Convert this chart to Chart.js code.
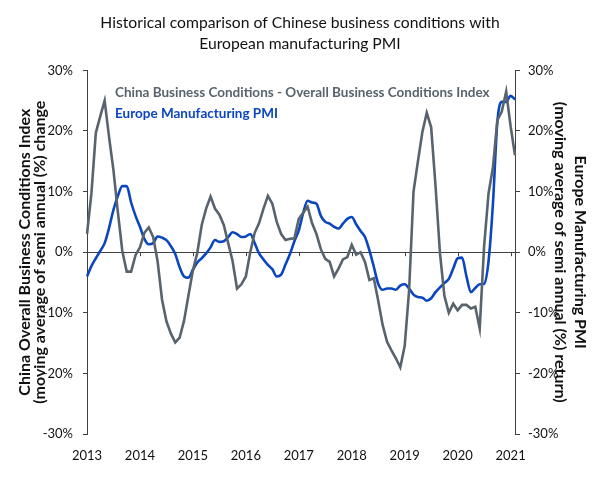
<!DOCTYPE html>
<html>
<head>
<meta charset="utf-8">
<script src="https://cdn.jsdelivr.net/npm/chart.js@4.4.1/dist/chart.umd.min.js"></script>
<style>
  html, body { margin: 0; padding: 0; background: #fff; }
  canvas { display: block; }
</style>
</head>
<body>
<canvas id="chart" width="600" height="500"></canvas>
<script>
// year tick labels, one per January
const years = ["2013", "2014", "2015", "2016", "2017", "2018", "2019", "2020", "2021"];

// monthly values, Jan 2013 .. Feb 2021 (%)
const chinaBusiness = [
  3, 9.7, 19.7, 22.4, 25, 19, 13.5, 6.6, 0.2, -3.2, -3.2, -0.5,
  0.8, 3.2, 4.1, 2.5, -1.5, -7.8, -11.4, -13.4, -14.9, -14.1, -11.3, -7.1,
  -3, -0.1, 4.5, 7.2, 9.2, 7.2, 6.2, 4.5, 1.5, -1.5, -6, -5.3,
  -4, 0, 3.2, 4.8, 7.2, 9.3, 8, 5, 3, 2, 2.2, 2.3,
  5.5, 6.5, 7.5, 4.8, 3, 0.5, -1.1, -1.6, -4, -2.7, -1.2, -0.8,
  1.2, -0.4, 0, -1.6, -4.6, -4.3, -8, -12, -14.8, -16.2, -17.5, -19,
  -15.5, -6.3, 10, 15, 19.8, 23, 20.6, 10.8, -0.2, -7.2, -10, -8.5,
  -9.6, -8.7, -8.7, -9.3, -9, -12.6, 1, 9.7, 14, 21.8, 23.2, 26.5,
  20.8, 16
];
const europePmi = [
  -4, -2.3, -1, 0.2, 1.5, 4, 7, 9.3, 10.9, 10.9, 8.2, 6,
  4.2, 2.2, 1.3, 1.5, 2.6, 2.4, 2, 1, -0.3, -2.5, -4, -4.2,
  -2.9, -1.7, -1, -0.2, 0.8, 2, 1.7, 1.8, 2.5, 3.3, 3, 2.5,
  2.6, 3, 1.5, -0.2, -1.2, -2.1, -2.8, -4, -3.7, -2, -0.3, 1.8,
  3.6, 6.5, 8.5, 8.2, 8, 6, 5, 4.7, 4.2, 3.9, 4.7, 5.5,
  5.8, 4.6, 3.5, 2.5, 0.3, -2.4, -5.2, -6.2, -6, -6, -6.2, -5.5,
  -5.3, -6, -7, -7.4, -7.5, -8, -7.6, -6.6, -5.8, -5.1, -4.4, -2.7,
  -1, -0.9, -4, -6.6, -5.9, -5.3, -5.2, -1.5, 8, 21.5, 24.8, 24.8,
  25.8, 25.2
];

const seriesNames = [
  "China Business Conditions - Overall Business Conditions Index",
  "Europe Manufacturing PMI"
];

const months = [];
years.forEach((y) => {
  for (let m = 1; m <= 12; m++) months.push(y + "-" + String(m).padStart(2, "0"));
});
months.length = chinaBusiness.length;

const GRAY = "#58636d";
const BLUE = "#0a46c0";
const AXIS = "#404040";
const FONT = "Lato";

// labels drawn inside the plot, no legend symbols
const seriesLabels = {
  id: "seriesLabels",
  afterDraw(chart) {
    const { ctx, chartArea } = chart;
    ctx.save();
    ctx.font = "bold 13.5px " + FONT;
    ctx.textBaseline = "middle";
    chart.data.datasets.forEach((ds, i) => {
      ctx.fillStyle = ds.borderColor;
      ctx.fillText(ds.label, chartArea.left + 28, chartArea.top + 22 + i * 21);
    });
    ctx.restore();
  },
};

// small year ticks hanging off the zero line
const zeroTicks = {
  id: "zeroTicks",
  beforeDatasetsDraw(chart) {
    const { ctx } = chart;
    const xs = chart.scales.x;
    const y0 = chart.scales.y.getPixelForValue(0);
    ctx.save();
    ctx.strokeStyle = AXIS;
    ctx.lineWidth = 1;
    for (let i = 12; i < months.length; i += 12) {
      const x = Math.round(xs.getPixelForValue(i)) + 0.5;
      ctx.beginPath();
      ctx.moveTo(x, y0);
      ctx.lineTo(x, y0 + 4);
      ctx.stroke();
    }
    ctx.restore();
  },
};

const mychart = document.querySelector("#chart");
new Chart(mychart, {
  type: "line",
  data: {
    labels: months,
    datasets: [
      {
        label: seriesNames[0],
        data: chinaBusiness,
        yAxisID: "y",
        borderColor: GRAY,
        borderWidth: 2.6,
        pointRadius: 0,
        tension: 0,
      },
      {
        label: seriesNames[1],
        data: europePmi,
        yAxisID: "y1",
        borderColor: BLUE,
        borderWidth: 2.6,
        pointRadius: 0,
        cubicInterpolationMode: "monotone",
      },
    ],
  },
  options: {
    responsive: false,
    animation: false,
    devicePixelRatio: 1,
    layout: { padding: 0 },
    plugins: {
      legend: { display: false },
      tooltip: { enabled: false },
      title: {
        display: true,
        text: [
          "Historical comparison of Chinese business conditions with",
          "European manufacturing PMI",
        ],
        color: "#111",
        font: { family: FONT, size: 15.7, weight: "normal", lineHeight: 1.35 },
        padding: { top: 12, bottom: 16 },
      },
    },
    scales: {
      x: {
        grid: { display: false, drawTicks: false },
        border: { display: false },
        ticks: {
          autoSkip: false,
          maxRotation: 0,
          padding: 14,
          color: "#111",
          font: { family: FONT, size: 13 },
          callback: (v, i) => (i % 12 === 0 ? years[i / 12] : ""),
        },
        afterFit: (scale) => { scale.height = 66; },
      },
      y: {
        position: "left",
        min: -30,
        max: 30,
        grid: {
          color: (c) => (c.tick && c.tick.value === 0 ? AXIS : "transparent"),
          tickColor: AXIS,
          tickLength: 4,
        },
        border: { color: AXIS },
        ticks: {
          stepSize: 10,
          padding: 10,
          color: "#111",
          font: { family: FONT, size: 13 },
          callback: (v) => v + "%",
        },
        title: {
          display: true,
          text: [
            "China Overall Business Conditions Index",
            "(moving average of semi annual (%) change",
          ],
          color: "#111",
          font: { family: FONT, size: 16, weight: "bold", lineHeight: 0.97 },
          padding: { top: 17 },
        },
        afterFit: (scale) => { scale.width = 87; },
      },
      y1: {
        position: "right",
        min: -30,
        max: 30,
        grid: { drawOnChartArea: false, tickColor: AXIS, tickLength: 5, color: AXIS },
        border: { color: AXIS },
        ticks: {
          stepSize: 10,
          padding: 8,
          color: "#111",
          font: { family: FONT, size: 13 },
          callback: (v) => v + "%",
        },
        title: {
          display: true,
          text: [
            "Europe Manufacturing PMI",
            "(moving average of semi annual (%) return)",
          ],
          color: "#111",
          font: { family: FONT, size: 16, weight: "bold", lineHeight: 1.25 },
          padding: { top: 10 },
        },
        afterFit: (scale) => { scale.width = 85; },
      },
    },
  },
  plugins: [zeroTicks, seriesLabels],
});
</script>
</body>
</html>
